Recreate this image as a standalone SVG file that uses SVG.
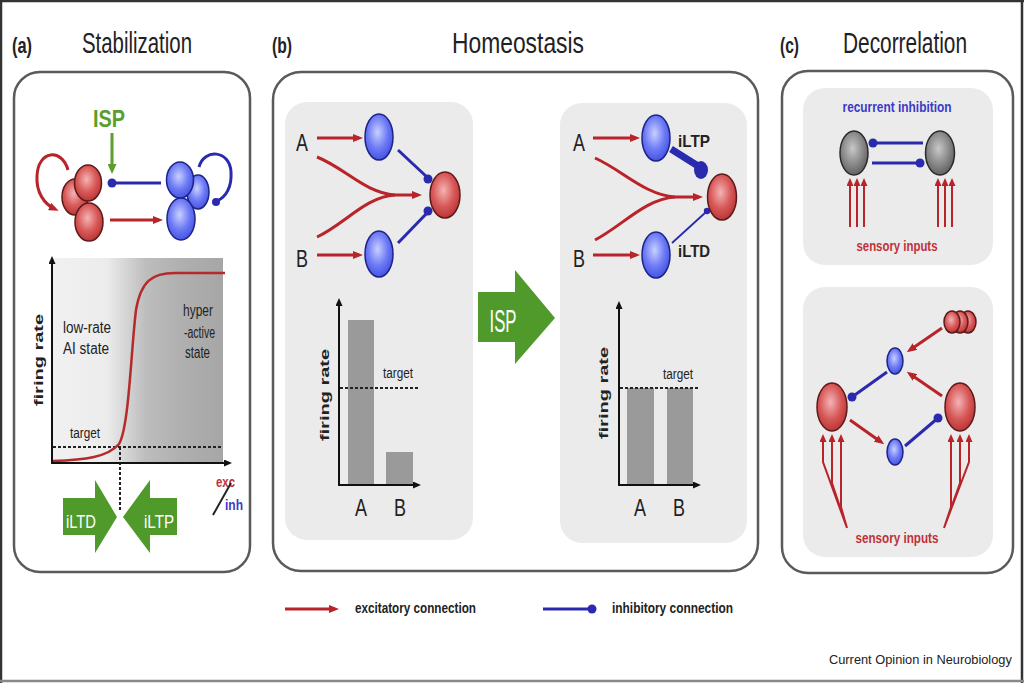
<svg xmlns="http://www.w3.org/2000/svg" width="1024" height="683" viewBox="0 0 1024 683">
<defs>
<style>
.t{font-family:"Liberation Sans",Arial,Helvetica,sans-serif;fill:#222}
.b{font-weight:bold}
.box{fill:none;stroke:#5a5a5a;stroke-width:2.5}
.inner{fill:#ebebeb}
.exc{fill:none;stroke:#b8242a;stroke-width:3}
.excs{fill:none;stroke:#b8242a;stroke-width:2}
.inh{fill:none;stroke:#2a2aae;stroke-width:3}
.dot{fill:#2a2aae}
.axis{stroke:#111;stroke-width:2;fill:none}
.dash{stroke:#222;stroke-width:2;stroke-dasharray:3 2;fill:none}
.bar{fill:#9a9a9a}
.green{fill:#4f9a2a}
.rN{fill:url(#gR);stroke:#5e1a1a;stroke-width:1.5}
.bN{fill:url(#gB);stroke:#1c2488;stroke-width:1.5}
.kN{fill:url(#gK);stroke:#2a2a2a;stroke-width:1.5}
.wt{fill:#fff}
.rt{fill:#c0303a}
.bt{fill:#3a3ac8}
</style>
<radialGradient id="gR" cx="0.45" cy="0.4" r="0.65">
<stop offset="0" stop-color="#f4b4b4"/><stop offset="0.55" stop-color="#d85858"/><stop offset="1" stop-color="#b53030"/>
</radialGradient>
<radialGradient id="gB" cx="0.45" cy="0.4" r="0.65">
<stop offset="0" stop-color="#c8d0ff"/><stop offset="0.55" stop-color="#6d7af5"/><stop offset="1" stop-color="#3f4de0"/>
</radialGradient>
<radialGradient id="gK" cx="0.45" cy="0.4" r="0.65">
<stop offset="0" stop-color="#c8c8c8"/><stop offset="0.55" stop-color="#8a8a8a"/><stop offset="1" stop-color="#5a5a5a"/>
</radialGradient>
<linearGradient id="gPlot" x1="0" y1="0" x2="1" y2="0">
<stop offset="0" stop-color="#f1f1f1"/><stop offset="0.32" stop-color="#ececec"/><stop offset="0.55" stop-color="#bdbdbd"/><stop offset="0.75" stop-color="#b0b0b0"/><stop offset="1" stop-color="#a6a6a6"/>
</linearGradient>
<marker id="ar" viewBox="0 0 10 8" refX="6" refY="4" markerWidth="10" markerHeight="8" markerUnits="userSpaceOnUse" orient="auto">
<path d="M0,0 L10,4 L0,8 z" fill="#b8242a"/>
</marker>
<marker id="ars" viewBox="0 0 8 7" refX="5" refY="3.5" markerWidth="8" markerHeight="7" markerUnits="userSpaceOnUse" orient="auto">
<path d="M0,0 L8,3.5 L0,7 z" fill="#b8242a"/>
</marker>
<marker id="ak" viewBox="0 0 8 7" refX="5" refY="3.5" markerWidth="8" markerHeight="7" markerUnits="userSpaceOnUse" orient="auto">
<path d="M0,0 L8,3.5 L0,7 z" fill="#111"/>
</marker>
<marker id="ag" viewBox="0 0 10 9" refX="6" refY="4.5" markerWidth="10" markerHeight="9" markerUnits="userSpaceOnUse" orient="auto">
<path d="M0,0 L10,4.5 L0,9 z" fill="#5b9e2e"/>
</marker>
</defs>

<rect x="0" y="0" width="1024" height="683" fill="#fff"/>
<g id="frame">
<line x1="1" y1="0" x2="1" y2="683" stroke="#333" stroke-width="2.5"/>
<line x1="0" y1="1" x2="1024" y2="1" stroke="#333" stroke-width="2.5"/>
<line x1="1022" y1="0" x2="1022" y2="683" stroke="#333" stroke-width="2.5"/>
<line x1="0" y1="681" x2="1024" y2="681" stroke="#888" stroke-width="2.5"/>
</g>

<!-- panel boxes -->
<g id="panel-boxes">
<rect class="box" x="14" y="72" width="236" height="500" rx="26"/>
<rect class="box" x="273" y="72" width="485" height="499" rx="28"/>
<rect class="box" x="782" y="71" width="231" height="502" rx="26"/>
<rect class="inner" x="285" y="102" width="188" height="438" rx="22"/>
<rect class="inner" x="560" y="103" width="187" height="440" rx="22"/>
<rect class="inner" x="803" y="88" width="190" height="177" rx="22"/>
<rect class="inner" x="803" y="287" width="190" height="270" rx="22"/>
</g>

<!-- titles -->
<g id="titles">
<text class="t b" x="12" y="53" font-size="22" textLength="20" lengthAdjust="spacingAndGlyphs">(a)</text>
<text class="t" x="82" y="53" font-size="30" textLength="110" lengthAdjust="spacingAndGlyphs">Stabilization</text>
<text class="t b" x="272" y="53" font-size="22" textLength="20" lengthAdjust="spacingAndGlyphs">(b)</text>
<text class="t" x="452" y="53" font-size="30" textLength="132" lengthAdjust="spacingAndGlyphs">Homeostasis</text>
<text class="t b" x="780" y="53" font-size="22" textLength="19" lengthAdjust="spacingAndGlyphs">(c)</text>
<text class="t" x="843" y="53" font-size="30" textLength="124" lengthAdjust="spacingAndGlyphs">Decorrelation</text>
</g>

<!-- panel (a) plot -->
<g id="a-plot">
<rect x="52" y="258" width="171" height="204" fill="url(#gPlot)"/>
<line class="dash" x1="53" y1="447" x2="223" y2="447"/>
<line class="dash" x1="120" y1="447" x2="120" y2="512"/>
<path d="M53,461 C85,460 108,457 119,444 C129,428 131,350 136,310 C141,281 152,273 175,273 L225,273" fill="none" stroke="#b52a2a" stroke-width="2.5"/>
<line class="axis" x1="52" y1="463" x2="52" y2="259" marker-end="url(#ak)"/>
<line class="axis" x1="51" y1="463" x2="229" y2="463" marker-end="url(#ak)"/>
<text class="t b" font-size="20" text-anchor="middle" transform="translate(43,360) scale(0.68,1) rotate(-90)">firing rate</text>
<text class="t" x="63" y="333" font-size="16" textLength="48" lengthAdjust="spacingAndGlyphs">low-rate</text>
<text class="t" x="63" y="354" font-size="16" textLength="46" lengthAdjust="spacingAndGlyphs">AI state</text>
<text class="t" x="183" y="316" font-size="16" textLength="30" lengthAdjust="spacingAndGlyphs">hyper</text>
<text class="t" x="184" y="338" font-size="16" textLength="31" lengthAdjust="spacingAndGlyphs">-active</text>
<text class="t" x="185" y="358" font-size="16" textLength="25" lengthAdjust="spacingAndGlyphs">state</text>
<text class="t" x="70" y="438" font-size="14" textLength="30" lengthAdjust="spacingAndGlyphs">target</text>
<text class="t b rt" x="216" y="487" font-size="15" textLength="19" lengthAdjust="spacingAndGlyphs">exc</text>
<line x1="213" y1="515" x2="231" y2="483" stroke="#222" stroke-width="2"/>
<text class="t b bt" x="225" y="510" font-size="15" textLength="18" lengthAdjust="spacingAndGlyphs">inh</text>
</g>
<g id="a-iltd">
<path class="green" d="M63,498 L95,498 L95,480 L117,517 L95,553 L95,535 L63,535 z"/>
<text class="t wt" x="81" y="528" font-size="18" text-anchor="middle" textLength="30" lengthAdjust="spacingAndGlyphs">iLTD</text>
</g>
<g id="a-iltp">
<path class="green" d="M177,498 L150,498 L150,480 L123,517 L150,553 L150,535 L177,535 z"/>
<text class="t wt" x="159" y="528" font-size="18" text-anchor="middle" textLength="30" lengthAdjust="spacingAndGlyphs">iLTP</text>
</g>

<!-- panel (b) bar charts -->
<g id="b-chart-before">
<rect class="bar" x="348" y="320" width="26" height="164"/>
<rect class="bar" x="386" y="452" width="27" height="32"/>
<line class="dash" x1="340" y1="388" x2="420" y2="388"/>
<line class="axis" x1="339" y1="485" x2="339" y2="301" marker-end="url(#ak)"/>
<line class="axis" x1="338" y1="485" x2="418" y2="485" marker-end="url(#ak)"/>
<text class="t b" font-size="20" text-anchor="middle" transform="translate(329,395) scale(0.68,1) rotate(-90)">firing rate</text>
<text class="t" x="383" y="378" font-size="14" textLength="30" lengthAdjust="spacingAndGlyphs">target</text>
<text class="t" x="361" y="516" font-size="24" text-anchor="middle" textLength="12" lengthAdjust="spacingAndGlyphs">A</text>
<text class="t" x="400" y="516" font-size="24" text-anchor="middle" textLength="12" lengthAdjust="spacingAndGlyphs">B</text>
</g>
<g id="b-chart-after">
<rect class="bar" x="627" y="388" width="27" height="96"/>
<rect class="bar" x="667" y="388" width="26" height="96"/>
<line class="dash" x1="620" y1="388" x2="699" y2="388"/>
<line class="axis" x1="619" y1="485" x2="619" y2="304" marker-end="url(#ak)"/>
<line class="axis" x1="618" y1="485" x2="698" y2="485" marker-end="url(#ak)"/>
<text class="t b" font-size="20" text-anchor="middle" transform="translate(608,393) scale(0.68,1) rotate(-90)">firing rate</text>
<text class="t" x="663" y="379" font-size="14" textLength="30" lengthAdjust="spacingAndGlyphs">target</text>
<text class="t" x="640" y="516" font-size="24" text-anchor="middle" textLength="12" lengthAdjust="spacingAndGlyphs">A</text>
<text class="t" x="679" y="516" font-size="24" text-anchor="middle" textLength="12" lengthAdjust="spacingAndGlyphs">B</text>
</g>
<g id="b-isp-arrow">
<path class="green" d="M478,292 L515,292 L515,270 L555,318 L515,364 L515,342 L478,342 z"/>
<text class="t wt" x="503" y="332" font-size="31" text-anchor="middle" textLength="27" lengthAdjust="spacingAndGlyphs">ISP</text>
</g>

<!-- connectors -->
<g id="connectors">
<!-- (a) -->
<path class="exc" d="M68,170 C62,148 38,150 37,176 C36,192 44,204 55,209" marker-end="url(#ar)"/>
<path class="inh" d="M199,167 C204,148 230,150 231,172 C232,187 226,197 217,201"/>
<circle class="dot" cx="216" cy="202" r="4"/>
<line class="inh" x1="112" y1="183" x2="161" y2="183"/>
<circle class="dot" cx="112" cy="183" r="4.5"/>
<line class="exc" x1="110" y1="220" x2="159" y2="220" marker-end="url(#ar)"/>
<line x1="112" y1="133" x2="112" y2="170" stroke="#5b9e2e" stroke-width="3" marker-end="url(#ag)"/>
<!-- (b) left -->
<line class="exc" x1="317" y1="138" x2="359" y2="138" marker-end="url(#ar)"/>
<line class="exc" x1="317" y1="255" x2="359" y2="255" marker-end="url(#ar)"/>
<path class="exc" d="M317,157 C345,168 365,193 395,195 L418,195" marker-end="url(#ar)"/>
<path class="exc" d="M317,237 C345,224 365,197 395,195"/>
<line class="inh" x1="398" y1="150" x2="428" y2="178"/>
<circle class="dot" cx="428" cy="179" r="4.5"/>
<line class="inh" x1="398" y1="243" x2="428" y2="212"/>
<circle class="dot" cx="428" cy="211" r="4.5"/>
<!-- (b) right -->
<line class="exc" x1="593" y1="138" x2="636" y2="138" marker-end="url(#ar)"/>
<line class="exc" x1="593" y1="255" x2="636" y2="255" marker-end="url(#ar)"/>
<path class="exc" d="M595,158 C622,170 645,195 675,197 L699,197" marker-end="url(#ar)"/>
<path class="exc" d="M595,240 C622,226 645,199 675,197"/>
<line x1="671" y1="149" x2="698" y2="166" stroke="#2a2aae" stroke-width="7"/>
<ellipse class="dot" cx="701" cy="170" rx="7" ry="9"/>
<line x1="672" y1="243" x2="706" y2="212" stroke="#2a2aae" stroke-width="1.8"/>
<circle class="dot" cx="707" cy="211" r="3.2"/>
<!-- (c) top -->
<line class="inh" x1="873" y1="143" x2="923" y2="143"/>
<circle class="dot" cx="873" cy="143" r="4.5"/>
<line class="inh" x1="872" y1="163" x2="920" y2="163"/>
<circle class="dot" cx="920" cy="163" r="4.5"/>
<line class="excs" x1="850" y1="227" x2="850" y2="181" marker-end="url(#ars)"/>
<line class="excs" x1="857" y1="227" x2="857" y2="181" marker-end="url(#ars)"/>
<line class="excs" x1="864" y1="227" x2="864" y2="181" marker-end="url(#ars)"/>
<line class="excs" x1="938" y1="227" x2="938" y2="181" marker-end="url(#ars)"/>
<line class="excs" x1="945" y1="227" x2="945" y2="181" marker-end="url(#ars)"/>
<line class="excs" x1="952" y1="227" x2="952" y2="181" marker-end="url(#ars)"/>
<!-- (c) bottom -->
<line class="exc" x1="942" y1="328" x2="910" y2="350" marker-end="url(#ar)"/>
<line class="exc" x1="942" y1="396" x2="910" y2="374" marker-end="url(#ar)"/>
<line class="exc" x1="850" y1="420" x2="881" y2="442" marker-end="url(#ar)"/>
<line class="inh" x1="887" y1="372" x2="852" y2="397"/>
<circle class="dot" cx="852" cy="397" r="4.5"/>
<line class="inh" x1="905" y1="446" x2="938" y2="418"/>
<circle class="dot" cx="938" cy="418" r="4.5"/>
<path class="excs" d="M823,437 L823,462 L847,528 M832,437 L832,483 L847,528 M841,437 L841,507 L847,528"/>
<line class="excs" x1="823" y1="440" x2="823" y2="437" marker-end="url(#ars)"/>
<line class="excs" x1="832" y1="440" x2="832" y2="437" marker-end="url(#ars)"/>
<line class="excs" x1="841" y1="440" x2="841" y2="437" marker-end="url(#ars)"/>
<path class="excs" d="M969,437 L969,462 L944,528 M960,437 L960,483 L944,528 M951,437 L951,507 L944,528"/>
<line class="excs" x1="969" y1="440" x2="969" y2="437" marker-end="url(#ars)"/>
<line class="excs" x1="960" y1="440" x2="960" y2="437" marker-end="url(#ars)"/>
<line class="excs" x1="951" y1="440" x2="951" y2="437" marker-end="url(#ars)"/>
</g>

<!-- nodes (a) -->
<g id="a-exc-population">
<ellipse class="rN" cx="75" cy="197" rx="13" ry="18"/>
<ellipse class="rN" cx="88" cy="183" rx="13.5" ry="18"/>
<ellipse class="rN" cx="89" cy="222" rx="14" ry="19"/>
</g>
<g id="a-inh-population">
<ellipse class="bN" cx="198" cy="192" rx="11" ry="17"/>
<ellipse class="bN" cx="181" cy="219" rx="14" ry="21"/>
<ellipse class="bN" cx="180" cy="180" rx="13.5" ry="18"/>
</g>
<g id="a-isp-label">
<text class="t b" x="109" y="127" font-size="23" text-anchor="middle" textLength="32" lengthAdjust="spacingAndGlyphs" style="fill:#5b9e2e">ISP</text>
</g>

<!-- nodes (b) left -->
<g id="b1-label-A"><text class="t" x="302" y="151" font-size="24" text-anchor="middle" textLength="12" lengthAdjust="spacingAndGlyphs">A</text></g>
<g id="b1-label-B"><text class="t" x="302" y="267" font-size="24" text-anchor="middle" textLength="12" lengthAdjust="spacingAndGlyphs">B</text></g>
<g id="b1-inh-A"><ellipse class="bN" cx="379" cy="137" rx="14" ry="23"/></g>
<g id="b1-inh-B"><ellipse class="bN" cx="379" cy="254" rx="14" ry="23"/></g>
<g id="b1-target"><ellipse class="rN" cx="445" cy="195" rx="15" ry="23"/></g>

<!-- nodes (b) right -->
<g id="b2-label-A"><text class="t" x="579" y="151" font-size="24" text-anchor="middle" textLength="12" lengthAdjust="spacingAndGlyphs">A</text></g>
<g id="b2-label-B"><text class="t" x="579" y="267" font-size="24" text-anchor="middle" textLength="12" lengthAdjust="spacingAndGlyphs">B</text></g>
<g id="b2-inh-A"><ellipse class="bN" cx="656" cy="138" rx="14" ry="23"/></g>
<g id="b2-inh-B"><ellipse class="bN" cx="656" cy="255" rx="14" ry="23"/></g>
<g id="b2-target"><ellipse class="rN" cx="722" cy="197" rx="14.5" ry="23"/></g>
<g id="b2-labels">
<text class="t b" x="678" y="147" font-size="17" textLength="32" lengthAdjust="spacingAndGlyphs">iLTP</text>
<text class="t b" x="678" y="257" font-size="17" textLength="32" lengthAdjust="spacingAndGlyphs">iLTD</text>
</g>

<!-- nodes (c) top -->
<g id="c1-label"><text class="t b bt" x="897" y="112" font-size="15" text-anchor="middle" textLength="109" lengthAdjust="spacingAndGlyphs">recurrent inhibition</text></g>
<g id="c1-left"><ellipse class="kN" cx="854" cy="153" rx="14" ry="22"/></g>
<g id="c1-right"><ellipse class="kN" cx="940" cy="153" rx="14.5" ry="22"/></g>
<g id="c1-inputs"><text class="t b rt" x="897" y="251" font-size="15" text-anchor="middle" textLength="81" lengthAdjust="spacingAndGlyphs">sensory inputs</text></g>

<!-- nodes (c) bottom -->
<g id="c2-cluster">
<ellipse class="rN" cx="968" cy="322" rx="8" ry="11"/>
<ellipse class="rN" cx="960" cy="322" rx="8" ry="11"/>
<ellipse class="rN" cx="952" cy="322" rx="8" ry="11"/>
</g>
<g id="c2-inh-top"><ellipse class="bN" cx="895" cy="361" rx="8" ry="13"/></g>
<g id="c2-inh-bottom"><ellipse class="bN" cx="895" cy="452" rx="8" ry="13"/></g>
<g id="c2-exc-left"><ellipse class="rN" cx="832" cy="407" rx="15" ry="24"/></g>
<g id="c2-exc-right"><ellipse class="rN" cx="960" cy="407" rx="15" ry="24"/></g>
<g id="c2-inputs"><text class="t b rt" x="897" y="543" font-size="15" text-anchor="middle" textLength="83" lengthAdjust="spacingAndGlyphs">sensory inputs</text></g>

<!-- legend -->
<g id="legend">
<line class="exc" x1="285" y1="609" x2="335" y2="609" marker-end="url(#ar)"/>
<text class="t b" x="355" y="613" font-size="14" textLength="121" lengthAdjust="spacingAndGlyphs">excitatory connection</text>
<line class="inh" x1="543" y1="609" x2="592" y2="609"/>
<circle class="dot" cx="592" cy="609" r="4.5"/>
<text class="t b" x="612" y="613" font-size="14" textLength="121" lengthAdjust="spacingAndGlyphs">inhibitory connection</text>
</g>
<g id="credit">
<text class="t" x="829" y="664" font-size="12.8">Current Opinion in Neurobiology</text>
</g>
</svg>
